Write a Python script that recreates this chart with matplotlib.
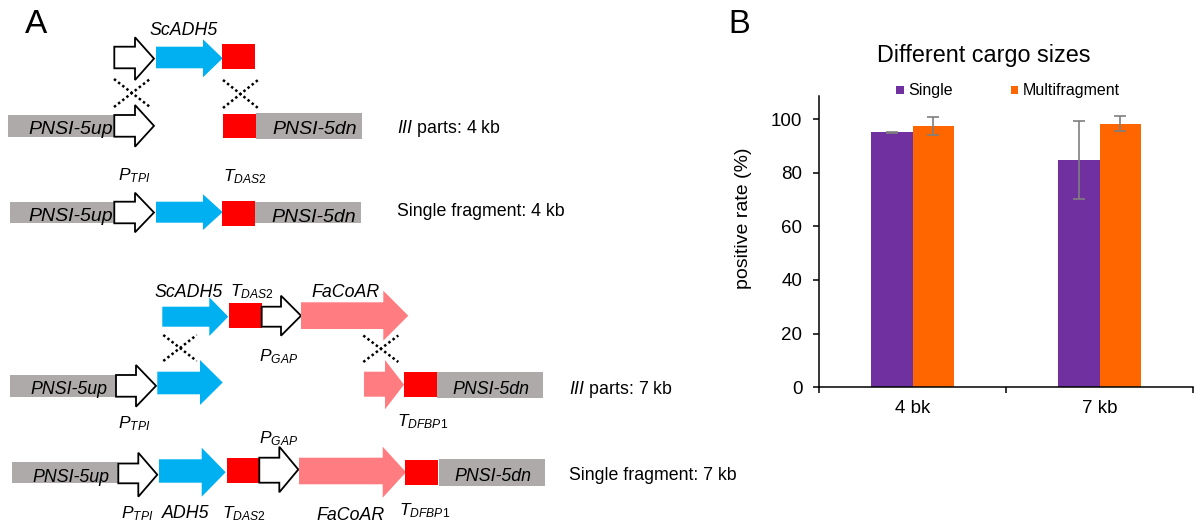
import numpy as np
import matplotlib
matplotlib.use("Agg")
import matplotlib.pyplot as plt
from matplotlib.patches import Polygon, Rectangle

plt.rcParams['font.family'] = ['Liberation Sans', 'DejaVu Sans']
plt.rcParams['mathtext.fontset'] = 'custom'
plt.rcParams['mathtext.it'] = 'Liberation Sans:italic'
plt.rcParams['mathtext.rm'] = 'Liberation Sans'

# panel B data
sizes = ['4 bk', '7 kb']
single = [95.0, 84.8]
single_err = [0.3, 14.5]
multi = [97.4, 98.2]
multi_err = [3.5, 2.8]

BLUE = '#00B0F0'
RED = '#FF0000'
PINK = '#FF7C80'
GRAY = '#AEAAAA'
PURPLE = '#7030A0'
ORANGE = '#FF6600'

fig = plt.figure(figsize=(11.95, 5.26), dpi=100)

# ---------------- panel A: construct schematic (pixel coords) ----------------
axa = fig.add_axes([0, 0, 1, 1])
axa.set_xlim(0, 1195)
axa.set_ylim(526, 0)
axa.axis('off')


def arrow(x0, xh, x1, yb0, yb1, yh0, yh1, fc, ec='none'):
    ym = (yh0 + yh1) / 2
    pts = [(x0, yb0), (xh, yb0), (xh, yh0), (x1, ym), (xh, yh1), (xh, yb1), (x0, yb1)]
    axa.add_patch(Polygon(pts, closed=True, fc=fc, ec=ec, lw=1.3, joinstyle='miter'))


def promoter(x0, xh, x1, yb0, yb1, yh0, yh1):
    arrow(x0, xh, x1, yb0, yb1, yh0, yh1, 'white', 'black')


def box(x0, x1, y0, y1, fc):
    axa.add_patch(Rectangle((x0, y0), x1 - x0, y1 - y0, fc=fc, ec='none'))


def cross(x0, x1, y0, y1):
    for ya, yb in [(y0, y1), (y1, y0)]:
        axa.plot([x0, x1], [ya, yb], color='black', lw=1.8, ls=(0, (1, 1.1)))


def txt(x, y, s, size=12.5, ha='left', style='italic'):
    axa.text(x, y, s, fontsize=size, ha=ha, va='baseline', style=style)


LAB = 12.8

txt(25, 33.3, 'A', size=24, style='normal')

# row 1: parts (4 kb)
promoter(114.3, 135, 154, 46.7, 68.3, 37.3, 80)
arrow(156, 203, 222.7, 46.7, 68.3, 39.3, 77.3, BLUE)
box(222.3, 255, 44, 69, RED)
txt(149.3, 35, 'ScADH5', size=LAB)
cross(114, 150, 79, 107)
cross(223, 258, 80, 108)

# row 2: genome
box(8.3, 114.3, 115, 136.7, GRAY)
promoter(114.3, 135, 154, 115, 136.7, 105, 146.7)
box(223.3, 255.7, 114, 138.3, RED)
box(255.7, 361.7, 113.3, 139.3, GRAY)
txt(28.3, 134, 'PNSI-5up', size=14)
txt(272, 134, 'PNSI-5dn', size=14)
txt(396.7, 133.3, r'$\mathit{III}$ parts: 4 kb', size=LAB, style='normal')
txt(118, 180, r'$\mathit{P}_{\mathit{TPI}}$')
txt(223, 181.7, r'$\mathit{T}_{\mathit{DAS2}}$')

# row 3: single fragment 4 kb
box(10, 114.3, 201.7, 223.3, GRAY)
promoter(114.3, 135, 154, 201.7, 223.3, 192.7, 232.3)
arrow(156, 203, 222.7, 201.7, 222.7, 194.3, 230, BLUE)
box(222.3, 255, 201, 225.7, RED)
box(255, 361, 201.7, 223.3, GRAY)
txt(28.3, 221, 'PNSI-5up', size=14)
txt(271.7, 222, 'PNSI-5dn', size=14)
txt(397, 216, 'Single fragment: 4 kb', size=LAB, style='normal')

# row 4: parts (7 kb)
arrow(162.3, 209.3, 228.3, 306.7, 326.7, 297.3, 336, BLUE)
box(229.3, 261.7, 303.3, 327.7, RED)
promoter(261.7, 281, 301, 306.7, 326.7, 295.7, 335.7)
arrow(301, 383.3, 408.3, 302.3, 329, 290.7, 340.7, PINK)
txt(155, 296.7, 'ScADH5', size=LAB)
txt(230, 296.7, r'$\mathit{T}_{\mathit{DAS2}}$')
txt(311, 296.7, 'FaCoAR', size=LAB)
txt(259.3, 361.7, r'$\mathit{P}_{\mathit{GAP}}$')
cross(163.3, 196.7, 335, 361)
cross(363.3, 398.3, 335.5, 362)

# row 5: genome 7 kb
box(10, 116, 375, 396.7, GRAY)
promoter(116, 136, 156, 375, 396.7, 365, 406.7)
arrow(157.3, 200, 222.7, 371.7, 394.3, 360, 405, BLUE)
arrow(364, 385, 404, 371.7, 396.7, 360, 409.3, PINK)
box(404, 436.7, 371.7, 396.7, RED)
box(437.3, 542.7, 371.7, 397.7, GRAY)
txt(30.7, 394.3, 'PNSI-5up', size=LAB)
txt(452.7, 394, 'PNSI-5dn', size=LAB)
txt(569.3, 394, r'$\mathit{III}$ parts: 7 kb', size=LAB, style='normal')
txt(118.5, 428, r'$\mathit{P}_{\mathit{TPI}}$')
txt(396.7, 426.7, r'$\mathit{T}_{\mathit{DFBP1}}$')
txt(259.3, 443.3, r'$\mathit{P}_{\mathit{GAP}}$')

# row 6: single fragment 7 kb
box(11.7, 118.3, 461.7, 483.3, GRAY)
promoter(118.3, 138.3, 157.3, 463.5, 483.3, 452.7, 496.7)
arrow(159, 201.7, 225.7, 459.3, 482.7, 447.7, 496.7, BLUE)
box(227.3, 259.3, 457.7, 482.7, RED)
promoter(259.3, 279.3, 298.3, 457.7, 482.7, 446.7, 492.3)
arrow(299, 382.7, 406, 457.7, 484.3, 446.7, 497.7, PINK)
box(405.3, 437.7, 460, 485, RED)
box(439.3, 545, 459, 485.7, GRAY)
txt(32.3, 481.7, 'PNSI-5up', size=LAB)
txt(454, 480.7, 'PNSI-5dn', size=LAB)
txt(569.3, 480.5, 'Single fragment: 7 kb', size=LAB, style='normal')
txt(120.7, 518.3, r'$\mathit{P}_{\mathit{TPI}}$')
txt(162.3, 518, 'ADH5', size=LAB)
txt(221.7, 518, r'$\mathit{T}_{\mathit{DAS2}}$')
txt(316, 520, 'FaCoAR', size=LAB)
txt(399, 515, r'$\mathit{T}_{\mathit{DFBP1}}$')

# ---------------- panel B: bar chart ----------------
fig.text(728 / 1195, 1 - 33.3 / 526, 'B', fontsize=23.5, ha='left', va='baseline')

ax = fig.add_axes([0.6854, 0.2637, 0.3130, 0.5544])
x = np.arange(len(sizes))
w = 0.22
ekw = dict(ecolor='#7F7F7F', elinewidth=1.2, capsize=4, capthick=1.2)
b1 = ax.bar(x - w / 2, single, w, color=PURPLE, yerr=single_err, error_kw=ekw, label='Single')
b2 = ax.bar(x + w / 2, multi, w, color=ORANGE, yerr=multi_err, error_kw=ekw, label='Multifragment')

ax.set_xlim(-0.5, 1.5)
ax.set_ylim(0, 108.7)
ax.set_yticks([0, 20, 40, 60, 80, 100])
ax.set_xticks([-0.5, 0.5, 1.5])
ax.set_xticklabels([])
ax.set_xticks(x, minor=True)
ax.set_xticklabels(sizes, minor=True)
ax.tick_params(axis='x', which='minor', length=0, pad=9, labelsize=13.5)
ax.tick_params(axis='x', which='major', direction='out', length=4, width=1.1)
ax.tick_params(axis='y', direction='out', length=4, width=1.1, pad=8, labelsize=13.5)
for side in ['top', 'right']:
    ax.spines[side].set_visible(False)
for side in ['left', 'bottom']:
    ax.spines[side].set_linewidth(1.1)

fig.text(983.3 / 1195, 1 - 62.3 / 526, 'Different cargo sizes', fontsize=16.8,
         ha='center', va='baseline')
fig.text(743.3 / 1195, 1 - 218.3 / 526, 'positive rate (%)', fontsize=14,
         rotation=90, ha='center', va='center')
fig.legend([b1, b2], ['Single', 'Multifragment'], loc='center',
           bbox_to_anchor=(1008 / 1195, 1 - 91 / 526), ncol=2, frameon=False,
           fontsize=11.5, handlelength=0.45, handleheight=0.45,
           handletextpad=0.3, columnspacing=3.6)

fig.savefig('out.png', dpi=100)
